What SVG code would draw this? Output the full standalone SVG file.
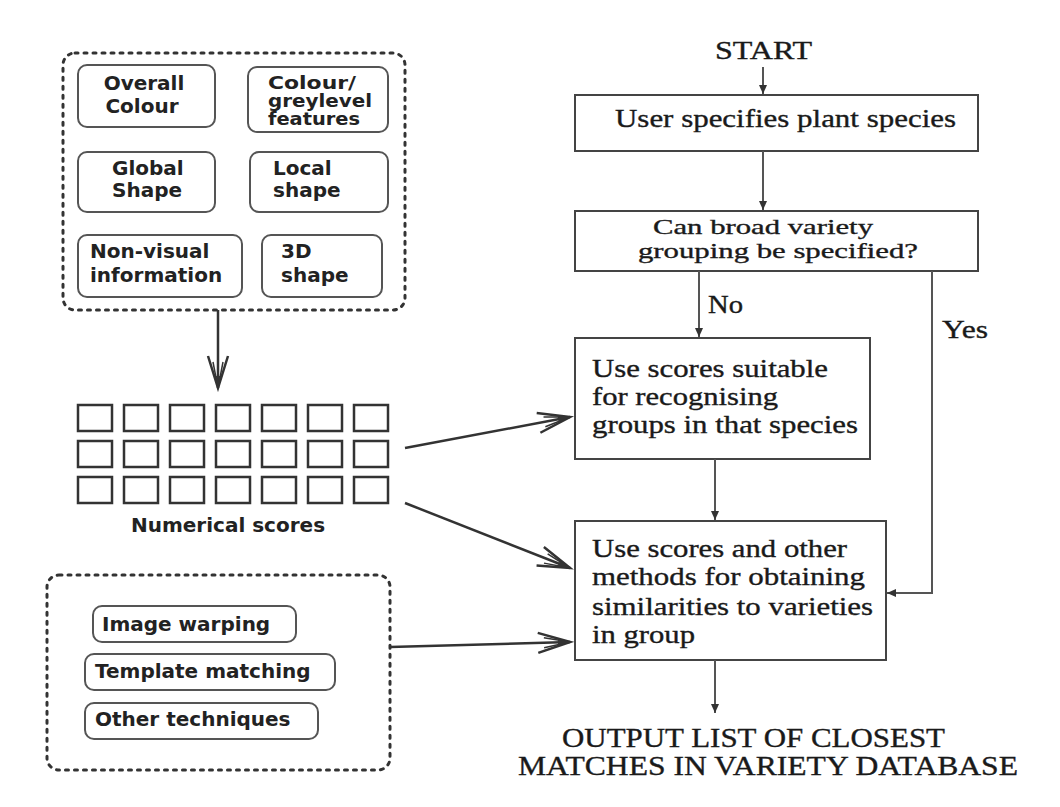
<svg xmlns="http://www.w3.org/2000/svg" width="1060" height="807" viewBox="0 0 1060 807">
<style>
.sans{font-family:"DejaVu Sans",Verdana,sans-serif;font-weight:bold;font-size:20px;fill:#222}
.small{font-size:17px}
.serif{font-family:"Liberation Serif","Times New Roman",serif;font-size:25px;fill:#1a1a1a;stroke:#1a1a1a;stroke-width:0.35}
.q{font-size:21px}
.out{font-size:27px}
.dot{fill:none;stroke:#333;stroke-width:3;stroke-dasharray:3 6;stroke-linecap:round}
.ibox{fill:#fff;stroke:#555;stroke-width:2}
.sq{fill:none;stroke:#333;stroke-width:2.5}
.fbox{fill:#fff;stroke:#444;stroke-width:2}
.fl{fill:none;stroke:#555;stroke-width:2}
.big{fill:none;stroke:#333;stroke-width:2.5}
</style>
<defs>
<marker id="tri" markerUnits="userSpaceOnUse" markerWidth="12" markerHeight="10" viewBox="-10 -5 12 10" refX="0" refY="0" orient="auto">
<path d="M-9,-4 L0,0 L-9,4 z" fill="#333"/>
</marker>
<marker id="openv" markerUnits="userSpaceOnUse" markerWidth="40" markerHeight="26" viewBox="-36 -13 40 26" refX="0" refY="0" orient="auto">
<path d="M-32,-10 L0,0 L-32,10" fill="none" stroke="#333" stroke-width="2.5"/>
<path d="M-26,-5 L0,0 L-26,5" fill="none" stroke="#333" stroke-width="1.5"/>
<path d="M-12,-3 L0,0 L-12,3 z" fill="#333"/>
</marker>
</defs>
<rect width="1060" height="807" fill="#fff"/>

<g id="features">
<rect class="dot" x="63" y="53" width="342" height="257" rx="12"/>
<g id="overall-colour">
<rect class="ibox" x="78" y="65" width="137" height="62" rx="9"/>
<text class="sans" x="144" y="90" text-anchor="middle">Overall</text>
<text class="sans" x="142" y="113" text-anchor="middle">Colour</text>
</g>
<g id="colour-greylevel">
<rect class="ibox" x="248" y="67" width="140" height="65" rx="9"/>
<text class="sans small" x="268" y="89" textLength="88" lengthAdjust="spacingAndGlyphs">Colour/</text>
<text class="sans small" x="268" y="107" textLength="104" lengthAdjust="spacingAndGlyphs">greylevel</text>
<text class="sans small" x="268" y="125" textLength="92" lengthAdjust="spacingAndGlyphs">features</text>
</g>
<g id="global-shape">
<rect class="ibox" x="78" y="152" width="137" height="60" rx="9"/>
<text class="sans" x="112" y="175">Global</text>
<text class="sans" x="112" y="197">Shape</text>
</g>
<g id="local-shape">
<rect class="ibox" x="250" y="152" width="138" height="60" rx="9"/>
<text class="sans" x="273" y="175">Local</text>
<text class="sans" x="273" y="197">shape</text>
</g>
<g id="non-visual">
<rect class="ibox" x="78" y="235" width="164" height="62" rx="9"/>
<text class="sans" x="90" y="258">Non-visual</text>
<text class="sans" x="90" y="282">information</text>
</g>
<g id="shape-3d">
<rect class="ibox" x="262" y="235" width="120" height="62" rx="9"/>
<text class="sans" x="281" y="258">3D</text>
<text class="sans" x="281" y="282">shape</text>
</g>
</g>

<g id="numerical-scores">
<g>
<rect class="sq" x="78" y="405" width="34" height="26"/><rect class="sq" x="124" y="405" width="34" height="26"/><rect class="sq" x="170" y="405" width="34" height="26"/><rect class="sq" x="216" y="405" width="34" height="26"/><rect class="sq" x="262" y="405" width="34" height="26"/><rect class="sq" x="308" y="405" width="34" height="26"/><rect class="sq" x="354" y="405" width="34" height="26"/>
<rect class="sq" x="78" y="441" width="34" height="26"/><rect class="sq" x="124" y="441" width="34" height="26"/><rect class="sq" x="170" y="441" width="34" height="26"/><rect class="sq" x="216" y="441" width="34" height="26"/><rect class="sq" x="262" y="441" width="34" height="26"/><rect class="sq" x="308" y="441" width="34" height="26"/><rect class="sq" x="354" y="441" width="34" height="26"/>
<rect class="sq" x="78" y="477" width="34" height="26"/><rect class="sq" x="124" y="477" width="34" height="26"/><rect class="sq" x="170" y="477" width="34" height="26"/><rect class="sq" x="216" y="477" width="34" height="26"/><rect class="sq" x="262" y="477" width="34" height="26"/><rect class="sq" x="308" y="477" width="34" height="26"/><rect class="sq" x="354" y="477" width="34" height="26"/>
</g>
<text class="sans" x="228" y="532" text-anchor="middle">Numerical scores</text>
</g>

<g id="techniques">
<rect class="dot" x="47" y="575" width="343" height="195" rx="12"/>
<g id="image-warping">
<rect class="ibox" x="93" y="606" width="203" height="36" rx="9"/>
<text class="sans" x="102" y="631">Image warping</text>
</g>
<g id="template-matching">
<rect class="ibox" x="85" y="654" width="250" height="36" rx="9"/>
<text class="sans" x="95" y="678">Template matching</text>
</g>
<g id="other-techniques">
<rect class="ibox" x="85" y="703" width="233" height="36" rx="9"/>
<text class="sans" x="95" y="726">Other techniques</text>
</g>
</g>

<g id="start">
<text class="serif" x="715" y="59" textLength="97" lengthAdjust="spacingAndGlyphs">START</text>
</g>
<g id="user-specifies">
<rect class="fbox" x="575" y="95" width="403" height="56"/>
<text class="serif" x="615" y="127" textLength="341" lengthAdjust="spacingAndGlyphs">User specifies plant species</text>
</g>
<g id="broad-variety">
<rect class="fbox" x="575" y="211" width="403" height="60"/>
<text class="serif q" x="653" y="234" textLength="220" lengthAdjust="spacingAndGlyphs">Can broad variety</text>
<text class="serif q" x="638" y="258" textLength="280" lengthAdjust="spacingAndGlyphs">grouping be specified?</text>
</g>
<g id="scores-suitable">
<rect class="fbox" x="575" y="338" width="295" height="121"/>
<text class="serif" x="592" y="377" textLength="236" lengthAdjust="spacingAndGlyphs">Use scores suitable</text>
<text class="serif" x="592" y="405" textLength="186" lengthAdjust="spacingAndGlyphs">for recognising</text>
<text class="serif" x="592" y="433" textLength="266" lengthAdjust="spacingAndGlyphs">groups in that species</text>
</g>
<g id="scores-other">
<rect class="fbox" x="575" y="521" width="311" height="139"/>
<text class="serif" x="592" y="557" textLength="255" lengthAdjust="spacingAndGlyphs">Use scores and other</text>
<text class="serif" x="592" y="585" textLength="273" lengthAdjust="spacingAndGlyphs">methods for obtaining</text>
<text class="serif" x="592" y="615" textLength="281" lengthAdjust="spacingAndGlyphs">similarities to varieties</text>
<text class="serif" x="592" y="643" textLength="103" lengthAdjust="spacingAndGlyphs">in group</text>
</g>
<g id="output">
<text class="serif out" x="562" y="747" textLength="383" lengthAdjust="spacingAndGlyphs">OUTPUT LIST OF CLOSEST</text>
<text class="serif out" x="518" y="775" textLength="500" lengthAdjust="spacingAndGlyphs">MATCHES IN VARIETY DATABASE</text>
</g>

<g id="connectors">
<line class="fl" x1="763" y1="67" x2="763" y2="94" marker-end="url(#tri)"/>
<line class="fl" x1="763" y1="151" x2="763" y2="210" marker-end="url(#tri)"/>
<line class="fl" x1="699" y1="271" x2="699" y2="337" marker-end="url(#tri)"/>
<polyline class="fl" points="932,271 932,593 887,593" marker-end="url(#tri)"/>
<line class="fl" x1="715" y1="459" x2="715" y2="520" marker-end="url(#tri)"/>
<line class="fl" x1="715" y1="660" x2="715" y2="713" marker-end="url(#tri)"/>
<line class="big" x1="218" y1="310" x2="218" y2="388" marker-end="url(#openv)"/>
<line class="big" x1="405" y1="448" x2="570" y2="417" marker-end="url(#openv)"/>
<line class="big" x1="405" y1="503" x2="570" y2="568" marker-end="url(#openv)"/>
<line class="big" x1="390" y1="647" x2="570" y2="642" marker-end="url(#openv)"/>
<text class="serif" x="708" y="313" textLength="35" lengthAdjust="spacingAndGlyphs">No</text>
<text class="serif" x="942" y="338" textLength="46" lengthAdjust="spacingAndGlyphs">Yes</text>
</g>
</svg>
